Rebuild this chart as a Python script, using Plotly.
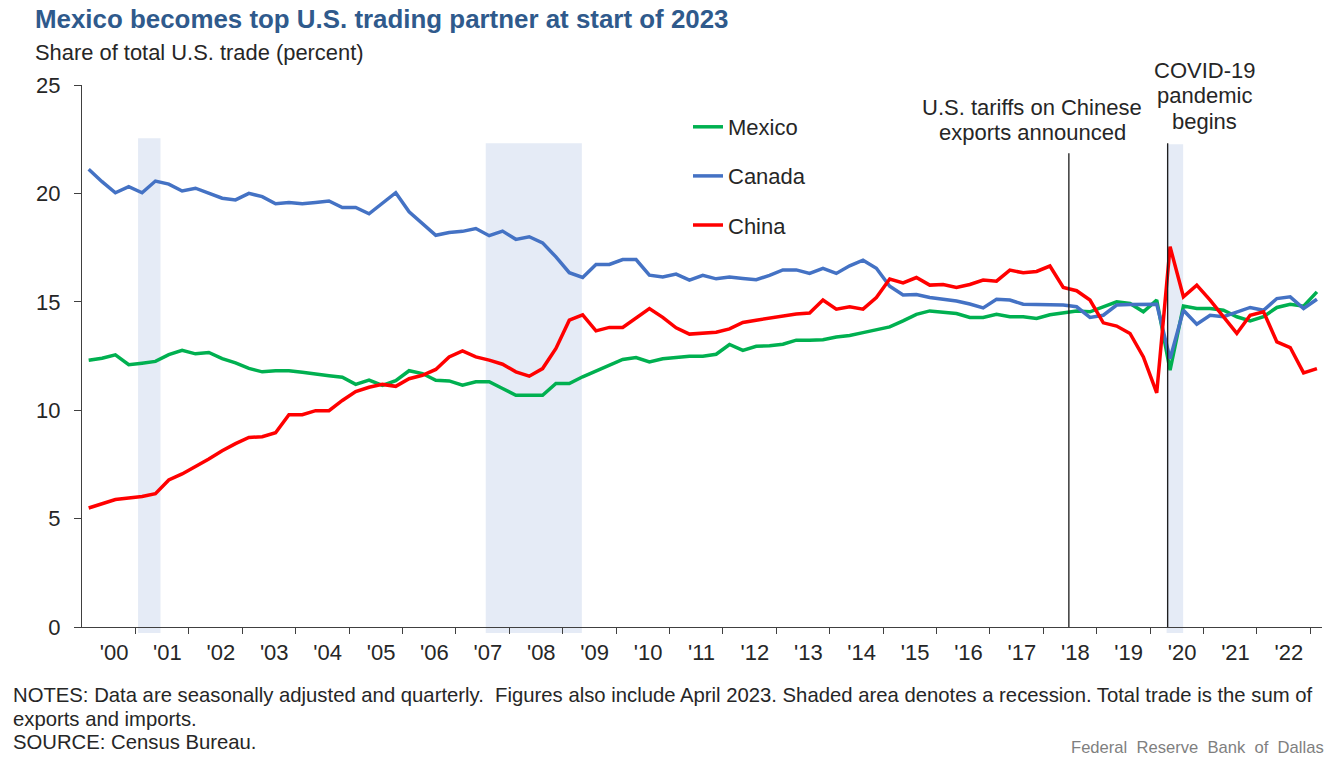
import plotly.graph_objects as go

# ---------------- data ----------------
years = list(range(2000, 2024))
quarters = [f"{y}Q{q}" for y in range(2000, 2023) for q in range(1, 5)] + ["2023Q1"]

mexico = [12.30, 12.40, 12.55, 12.10, 12.17, 12.25, 12.56, 12.76, 12.60, 12.66,
          12.38, 12.18, 11.93, 11.77, 11.82, 11.82, 11.75, 11.69, 11.59, 11.52,
          11.19, 11.39, 11.14, 11.36, 11.82, 11.69, 11.38, 11.35, 11.15, 11.31,
          11.31, 11.00, 10.69, 10.69, 10.69, 11.23, 11.23, 11.54, 11.81, 12.11,
          12.34, 12.43, 12.23, 12.37, 12.45, 12.49, 12.49, 12.58, 13.03, 12.76,
          12.95, 12.97, 13.04, 13.23, 13.23, 13.25, 13.38, 13.45, 13.58, 13.70,
          13.84, 14.12, 14.42, 14.58, 14.51, 14.46, 14.28, 14.28, 14.42, 14.31,
          14.31, 14.23, 14.40, 14.49, 14.57, 14.54, 14.77, 15.00, 14.92, 14.54,
          15.08, 11.85, 14.80, 14.69, 14.69, 14.61, 14.31, 14.12, 14.31, 14.74,
          14.89, 14.80, 15.46]

canada = [21.11, 20.54, 20.03, 20.31, 20.03, 20.57, 20.43, 20.11, 20.24, 20.00,
          19.78, 19.70, 20.00, 19.85, 19.52, 19.58, 19.52, 19.58, 19.65, 19.35,
          19.35, 19.06, 19.54, 20.03, 19.15, 18.62, 18.07, 18.20, 18.25, 18.38,
          18.05, 18.26, 17.88, 18.00, 17.72, 17.07, 16.34, 16.12, 16.72, 16.72,
          16.95, 16.95, 16.23, 16.14, 16.28, 16.00, 16.22, 16.06, 16.14, 16.08,
          16.02, 16.22, 16.47, 16.47, 16.31, 16.54, 16.31, 16.66, 16.92, 16.55,
          15.72, 15.31, 15.34, 15.20, 15.12, 15.04, 14.90, 14.72, 15.12, 15.08,
          14.89, 14.88, 14.87, 14.85, 14.77, 14.28, 14.38, 14.85, 14.88, 14.89,
          14.89, 12.38, 14.61, 13.97, 14.38, 14.31, 14.54, 14.74, 14.61, 15.15,
          15.23, 14.69, 15.12]

china = [5.49, 5.69, 5.88, 5.95, 6.02, 6.15, 6.78, 7.06, 7.39, 7.75,
         8.13, 8.46, 8.74, 8.78, 8.96, 9.79, 9.79, 9.98, 9.98, 10.45,
         10.86, 11.06, 11.19, 11.10, 11.45, 11.61, 11.88, 12.46, 12.74, 12.46,
         12.31, 12.12, 11.77, 11.57, 11.92, 12.85, 14.15, 14.40, 13.66, 13.82,
         13.82, 14.28, 14.69, 14.28, 13.80, 13.51, 13.57, 13.60, 13.75, 14.05,
         14.15, 14.26, 14.36, 14.44, 14.48, 15.08, 14.66, 14.77, 14.66, 15.20,
         16.05, 15.87, 16.12, 15.77, 15.80, 15.66, 15.80, 16.00, 15.95, 16.46,
         16.34, 16.40, 16.65, 15.66, 15.51, 15.08, 14.03, 13.88, 13.54, 12.46,
         10.80, 17.54, 15.23, 15.77, 15.08, 14.31, 13.54, 14.38, 14.54, 13.15,
         12.89, 11.72, 11.92]

tick_labels = ["'00", "'01", "'02", "'03", "'04", "'05", "'06", "'07", "'08", "'09",
               "'10", "'11", "'12", "'13", "'14", "'15", "'16", "'17", "'18", "'19",
               "'20", "'21", "'22"]

recession_start = [2001.05, 2007.56, 2020.31]
recession_end = [2001.47, 2009.36, 2020.62]
event_dates = [2018.48, 2020.33]

# quarter midpoints on a decimal-year axis
def qpos(label):
    y, q = label.split("Q")
    return int(y) + (int(q) - 0.5) / 4

xq = [qpos(q) for q in quarters]

# ---------------- layout helpers ----------------
W, H = 1326, 757
PL, PT, PW, PH = 82, 85, 1240, 542

def px(x):
    return (x - PL) / PW

def py(y):
    return (PT + PH - y) / PH

FONT = "Liberation Sans, Arial, sans-serif"
TXT = "#262626"
AX = "#404040"

fig = go.Figure()
series = [("Mexico", mexico, "#00b050"), ("Canada", canada, "#4472c4"), ("China", china, "#ff0000")]
for name, vals, col in series:
    fig.add_trace(go.Scatter(x=xq, y=vals, name=name, mode="lines", legendgroup=name,
                             line=dict(color=col, width=3.5), hoverinfo="x+y+name"))

shapes = []
tops = [138.3, 143.3, 144.3]
for s, e, t in zip(recession_start, recession_end, tops):
    shapes.append(dict(type="rect", xref="x", yref="paper", x0=s, x1=e,
                       y0=py(633), y1=py(t), fillcolor="#e5ebf6", line=dict(width=0),
                       layer="below"))
line_tops = [153.3, 143.3]
for d, t in zip(event_dates, line_tops):
    shapes.append(dict(type="line", xref="x", yref="paper", x0=d, x1=d,
                       y0=0, y1=py(t), line=dict(color="#1a1a1a", width=1.3)))

ann = []
def text(x, y, s, size=22, color=TXT, anchor="left", bold=False):
    if bold:
        s = f"<b>{s}</b>"
    ann.append(dict(xref="paper", yref="paper", x=px(x), y=py(y), text=s,
                    showarrow=False, xanchor=anchor, yanchor="middle",
                    font=dict(size=size, family=FONT, color=color)))

text(33, 19, "Mexico becomes top U.S. trading partner at start of 2023", size=25.9,
     color="#2f5a8c", bold=True)
text(33, 53, "Share of total U.S. trade (percent)", size=21.9)
text(1032, 107, "U.S. tariffs on Chinese", anchor="center")
text(1032, 132, "exports announced", anchor="center")
text(1204, 71, "COVID-19", anchor="center")
text(1204, 96, "pandemic", anchor="center")
text(1204, 121, "begins", anchor="center")
text(11, 695, "NOTES: Data are seasonally adjusted and quarterly.  Figures also include April 2023. "
              "Shaded area denotes a recession. Total trade is the sum of", size=20.3)
text(11, 719, "exports and imports.", size=20.3)
text(11, 742, "SOURCE: Census Bureau.", size=20.3)
text(1326, 747, "Federal  Reserve  Bank  of  Dallas", size=16.6, color="#7f7f7f", anchor="right")

fig.update_layout(
    width=W, height=H,
    margin=dict(l=PL, r=W - PL - PW, t=PT, b=H - PT - PH, pad=0),
    paper_bgcolor="white", plot_bgcolor="white",
    font=dict(family=FONT, size=22, color=TXT),
    shapes=shapes, annotations=ann,
    showlegend=True,
    legend=dict(x=px(688), y=py(106), xanchor="left", yanchor="top",
                bgcolor="rgba(0,0,0,0)", font=dict(size=22, family=FONT, color=TXT),
                traceorder="grouped", tracegroupgap=17.5, itemwidth=30),
    xaxis=dict(range=[2000, 2023.22], showline=True, linecolor=AX, linewidth=1.3,
               showgrid=False, zeroline=False,
               tickmode="array", tickvals=[y + 0.6 for y in years[:-1]], ticktext=tick_labels,
               ticks="", tickfont=dict(size=22, family=FONT, color=TXT),
               ticklabelstandoff=5,
               minor=dict(tickmode="array", tickvals=years[1:], ticks="outside",
                          ticklen=6, tickwidth=1.3, tickcolor=AX, showgrid=False)),
    yaxis=dict(range=[0, 25], showline=True, linecolor=AX, linewidth=1.3,
               showgrid=False, zeroline=False,
               tickmode="array", tickvals=[0, 5, 10, 15, 20, 25],
               ticks="outside", ticklen=7, tickwidth=1.3, tickcolor=AX,
               tickfont=dict(size=22, family=FONT, color=TXT), ticklabelstandoff=9),
)

fig.write_html("out.html", config={"displayModeBar": False},
               post_script="document.body.style.margin='0';document.body.style.overflow='hidden';")
